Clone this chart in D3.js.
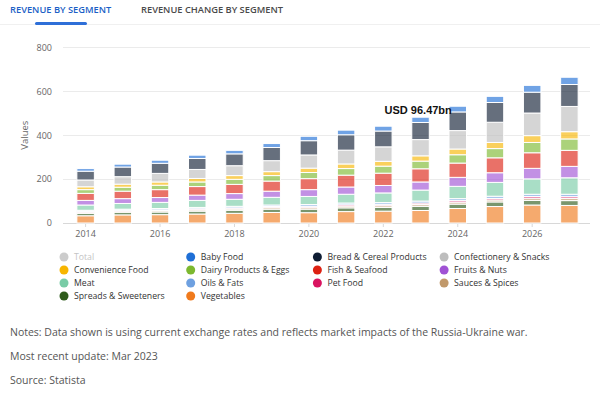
<!DOCTYPE html>
<html>
<head>
<meta charset="utf-8">
<script src="https://cdn.jsdelivr.net/npm/d3@7"></script>
<style>
  body { margin: 0; background: #fff; font-family: "Open Sans", sans-serif; }
</style>
</head>
<body>
<div id="chart"></div>
<script>
var canvasWidth = 600;
var canvasHeight = 393;

/*Data*/
var years = [2014, 2015, 2016, 2017, 2018, 2019, 2020, 2021, 2022, 2023, 2024, 2025, 2026, 2027];
var segments = ["Baby Food", "Bread & Cereal Products", "Confectionery & Snacks", "Convenience Food",
    "Dairy Products & Eggs", "Fish & Seafood", "Fruits & Nuts", "Meat", "Oils & Fats", "Pet Food",
    "Sauces & Spices", "Spreads & Sweeteners", "Vegetables"];
var babyFood     = [12, 13, 14, 15, 16, 18, 20, 21, 22, 24, 26, 28, 31, 33];
var breadCereal  = [40, 44, 46, 50, 54, 60, 65, 70, 72, 78, 85, 90, 95, 100];
var confectionery= [31, 34, 39, 41, 45, 50, 60, 63, 66, 74, 84, 92, 103, 115];
var convenience  = [13, 14, 15, 16, 17, 18, 20, 21, 22, 24, 26, 28, 31, 33];
var dairyEggs    = [17, 18, 20, 21, 23, 25, 28, 30, 32, 35, 38, 42, 47, 52];
var fishSeafood  = [32, 34, 36, 39, 42, 46, 50, 54, 56, 60, 65, 68, 71, 73];
var fruitsNuts   = [21, 22, 22, 24, 26, 28, 31, 33, 34, 37, 41, 44, 48, 52];
var meat         = [24, 26, 28, 32, 32, 35, 37, 40, 44, 50, 56, 63, 70, 75];
var oilsFats     = [5, 5, 6, 6, 7, 7, 8, 8, 8, 9, 9, 10, 10, 11];
var petFood      = [4, 4, 4, 5, 5, 5, 6, 6, 6, 7, 7, 7, 8, 8];
var saucesSpices = [5, 5, 6, 6, 6, 7, 7, 8, 8, 8, 9, 9, 10, 10];
var spreads      = [11, 12, 12, 13, 14, 15, 16, 17, 17, 19, 20, 21, 21, 22];
var vegetables   = [33, 37, 38, 41, 44, 48, 47, 52, 54, 57, 66, 75, 82, 80];
var seriesValues = [babyFood, breadCereal, confectionery, convenience, dairyEggs, fishSeafood,
    fruitsNuts, meat, oilsFats, petFood, saucesSpices, spreads, vegetables];
var yTicks = [0, 200, 400, 600, 800];
var xLabels = [2014, 2016, 2018, 2020, 2022, 2024, 2026];
var legendItems = ["Total"].concat(segments);
var annotation = {year: 2022, value: 495, text: "USD 96.47bn"};
var notes = ["Notes: Data shown is using current exchange rates and reflects market impacts of the Russia-Ukraine war.",
    "Most recent update: Mar 2023",
    "Source: Statista"];

var colors = ["#1f6fd6", "#0f1d33", "#bdbdbd", "#f7b500", "#7cb82f", "#dd2112", "#a052d4",
    "#79cca6", "#6ea0e0", "#d91460", "#c1996b", "#2e5b1b", "#f07a1c"];
var color = d3.scaleOrdinal().domain(segments).range(colors);

/*Table for stacking*/
var table = years.map(function(y, i) {
    var row = {year: y};
    segments.forEach(function(s, j) { row[s] = seriesValues[j][i]; });
    return row;
});
/*first series sits on top, so stack in reverse*/
var stack = d3.stack().keys(segments.slice().reverse());
var stacked = stack(table);

var svg = d3.select("#chart")
    .append("svg")
    .attr("width", canvasWidth)
    .attr("height", canvasHeight)
    .style("font-family", "'Open Sans', sans-serif");

/*Tabs*/
svg.append("line")
    .attr("x1", 0).attr("x2", canvasWidth)
    .attr("y1", 24.5).attr("y2", 24.5)
    .attr("stroke", "#f0f0f0");
svg.append("text")
    .attr("x", 10).attr("y", 13)
    .attr("font-size", 9.3).attr("font-weight", 600)
    .attr("fill", "#1b5fc6")
    .text("REVENUE BY SEGMENT");
svg.append("text")
    .attr("x", 141).attr("y", 13)
    .attr("font-size", 9.3).attr("font-weight", 600)
    .attr("fill", "#4a4a4a")
    .text("REVENUE CHANGE BY SEGMENT");
svg.append("rect")
    .attr("x", 35).attr("y", 22).attr("width", 52).attr("height", 3)
    .attr("rx", 1.5)
    .attr("fill", "#2e6fd8");

/*Scales*/
var xScale = d3.scaleBand().domain(years).range([67, 588]).paddingInner(0.53).paddingOuter(0.265);
var yScale = d3.scaleLinear().domain([0, 800]).range([223, 47.4]);

/*Grid*/
var grid = svg.append("g");
grid.selectAll("line")
    .data(yTicks)
    .join("line")
    .attr("x1", 63).attr("x2", 590)
    .attr("y1", function(d) { return Math.round(yScale(d)) + 0.5; })
    .attr("y2", function(d) { return Math.round(yScale(d)) + 0.5; })
    .attr("stroke", function(d) { return d === 0 ? "#d8d8d8" : "#ebebeb"; });

/*Y axis*/
var yAxis = svg.append("g")
    .attr("transform", "translate(52,0)")
    .call(d3.axisLeft(yScale).tickValues(yTicks).tickSize(0).tickPadding(0));
yAxis.select(".domain").remove();
yAxis.selectAll("text")
    .attr("font-size", 9)
    .attr("font-family", "'Open Sans', sans-serif")
    .attr("fill", "#666");

svg.append("text")
    .attr("transform", "translate(28," + yScale(400) + ") rotate(-90)")
    .attr("text-anchor", "middle")
    .attr("font-size", 9.5)
    .attr("fill", "#666")
    .text("Values");

/*X axis*/
var xAxis = svg.append("g")
    .attr("transform", "translate(0,223)")
    .call(d3.axisBottom(xScale).tickValues(xLabels).tickSize(4).tickPadding(4));
xAxis.select(".domain").remove();
xAxis.selectAll("line").attr("stroke", "#d8d8d8");
xAxis.selectAll("text")
    .attr("font-size", 9)
    .attr("font-family", "'Open Sans', sans-serif")
    .attr("fill", "#666");

/*Bars*/
svg.append("g")
    .selectAll("g")
    .data(stacked)
    .join("g")
    .attr("fill", function(d) { return color(d.key); })
    .attr("fill-opacity", 0.64)
    .selectAll("rect")
    .data(function(d) { return d; })
    .join("rect")
    .attr("x", function(d) { return xScale(d.data.year); })
    .attr("y", function(d) { return yScale(d[1]); })
    .attr("width", xScale.bandwidth())
    .attr("height", function(d) { return Math.max(0, yScale(d[0]) - yScale(d[1])); })
    .attr("stroke", "#ffffff")
    .attr("stroke-width", 1);

/*Annotation*/
svg.append("text")
    .attr("x", xScale(annotation.year) + 10)
    .attr("y", yScale(annotation.value))
    .attr("font-family", "'Liberation Sans', Arial, sans-serif")
    .attr("font-size", 11)
    .attr("font-weight", "bold")
    .attr("fill", "#111")
    .text(annotation.text);

/*Legend*/
var legend = svg.append("g");
var cell = legend.selectAll("g")
    .data(legendItems)
    .join("g")
    .attr("transform", function(d, i) {
        return "translate(" + (64 + (i % 4) * 126.7) + "," + (257 + Math.floor(i / 4) * 13) + ")";
    });
cell.append("circle")
    .attr("r", 4.5)
    .attr("fill", function(d) { return d === "Total" ? "#cccccc" : color(d); });
cell.append("text")
    .attr("x", 10)
    .attr("dy", "0.35em")
    .attr("font-size", 8.7)
    .attr("fill", function(d) { return d === "Total" ? "#c4c4c4" : "#333"; })
    .text(function(d) { return d; });

/*Notes*/
svg.append("g")
    .selectAll("text")
    .data(notes)
    .join("text")
    .attr("x", 10)
    .attr("y", function(d, i) { return 336 + i * 24; })
    .attr("font-size", 10.5)
    .attr("fill", "#555")
    .text(function(d) { return d; });
</script>
</body>
</html>
